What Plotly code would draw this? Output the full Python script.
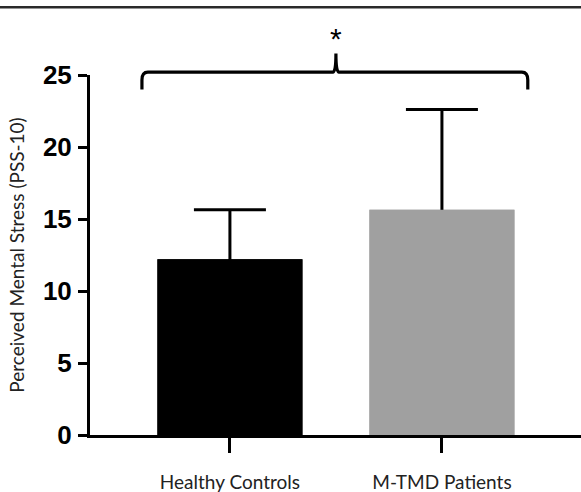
import plotly.graph_objects as go

categories = ["Healthy Controls", "M-TMD Patients"]
means = [12.2, 15.65]
sd_upper = [3.45, 6.95]
bar_colors = ["#000000", "#a0a0a0"]
y_ticks = [0, 5, 10, 15, 20, 25]
y_title = "Perceived Mental Stress (PSS-10)"
sig_label = "*"
# brace (in data units): x from/to, peak x; y levels
brace_x = [-0.415, 1.405, 0.5]
brace_y = [24.0, 25.2, 26.5]
star_y = 27.5

X_RANGE = [-0.66, 1.656]
Y_RANGE = [0, 25]

def px(v):
    return (v - X_RANGE[0]) / (X_RANGE[1] - X_RANGE[0])

def py(v):
    return (v - Y_RANGE[0]) / (Y_RANGE[1] - Y_RANGE[0])

fig = go.Figure()
# bars carrying symmetric error bars (lower half hidden by the overlay bars)
fig.add_trace(go.Bar(
    x=[0, 1], y=means,
    marker=dict(color=bar_colors, line=dict(width=0)),
    width=0.684,
    error_y=dict(type="data", symmetric=True, array=sd_upper,
                 color="#000000", thickness=3, width=36),
    showlegend=False, hoverinfo="skip",
))
fig.add_trace(go.Bar(
    x=[0, 1], y=means,
    marker=dict(color=bar_colors, line=dict(width=0)),
    width=0.684,
    showlegend=False,
))

# brace path
xl, xr, xm = px(brace_x[0]), px(brace_x[1]), px(brace_x[2])
yb, yh, yp = py(brace_y[0]), py(brace_y[1]), py(brace_y[2])
r = 0.012
ry = 0.022
path = (f"M {xl},{yb} L {xl},{yh - ry} Q {xl},{yh} {xl + r},{yh} "
        f"L {xm - 0.006},{yh} Q {xm},{yh} {xm},{yp} Q {xm},{yh} {xm + 0.006},{yh} "
        f"L {xr - r},{yh} Q {xr},{yh} {xr},{yh - ry} L {xr},{yb}")
shapes = [
    dict(type="path", xref="paper", yref="paper", path=path,
         line=dict(color="#000000", width=3.2)),
    dict(type="line", xref="paper", yref="paper", x0=-0.25, x1=1.0,
         y0=1.188, y1=1.188, line=dict(color="#2a2a2a", width=2.5)),
]

fig.update_layout(
    width=581, height=492,
    margin=dict(l=90, r=0, t=75, b=57),
    barmode="overlay",
    paper_bgcolor="white", plot_bgcolor="white",
    shapes=shapes,
    annotations=[dict(x=px(brace_x[2]), y=py(star_y), xref="paper", yref="paper",
                      xanchor="center", yanchor="middle",
                      text=sig_label, showarrow=False,
                      font=dict(family="Liberation Sans", size=30, color="#000"))],
    xaxis=dict(range=X_RANGE, tickmode="array", tickvals=[0, 1], ticktext=categories,
               showline=True, linecolor="#000", linewidth=3,
               ticks="outside", ticklen=15, tickwidth=3, tickcolor="#000",
               ticklabelstandoff=13, automargin=False,
               tickfont=dict(family="Lato", size=19, color="#222"),
               showgrid=False, zeroline=False),
    yaxis=dict(range=Y_RANGE, tickmode="array", tickvals=y_ticks,
               showline=True, linecolor="#000", linewidth=3,
               ticks="outside", ticklen=9, tickwidth=3, tickcolor="#000",
               ticklabelstandoff=1, automargin=False,
               tickfont=dict(family="Liberation Sans Narrow, Liberation Sans", size=26,
                             color="#000", weight="bold"),
               title=dict(text=y_title, standoff=14,
                          font=dict(family="Lato", size=19, color="#222")),
               showgrid=False, zeroline=False),
)

fig.write_html("out.html",
               config={"displayModeBar": False},
               post_script="document.body.style.margin='0';document.body.style.overflow='hidden';")
